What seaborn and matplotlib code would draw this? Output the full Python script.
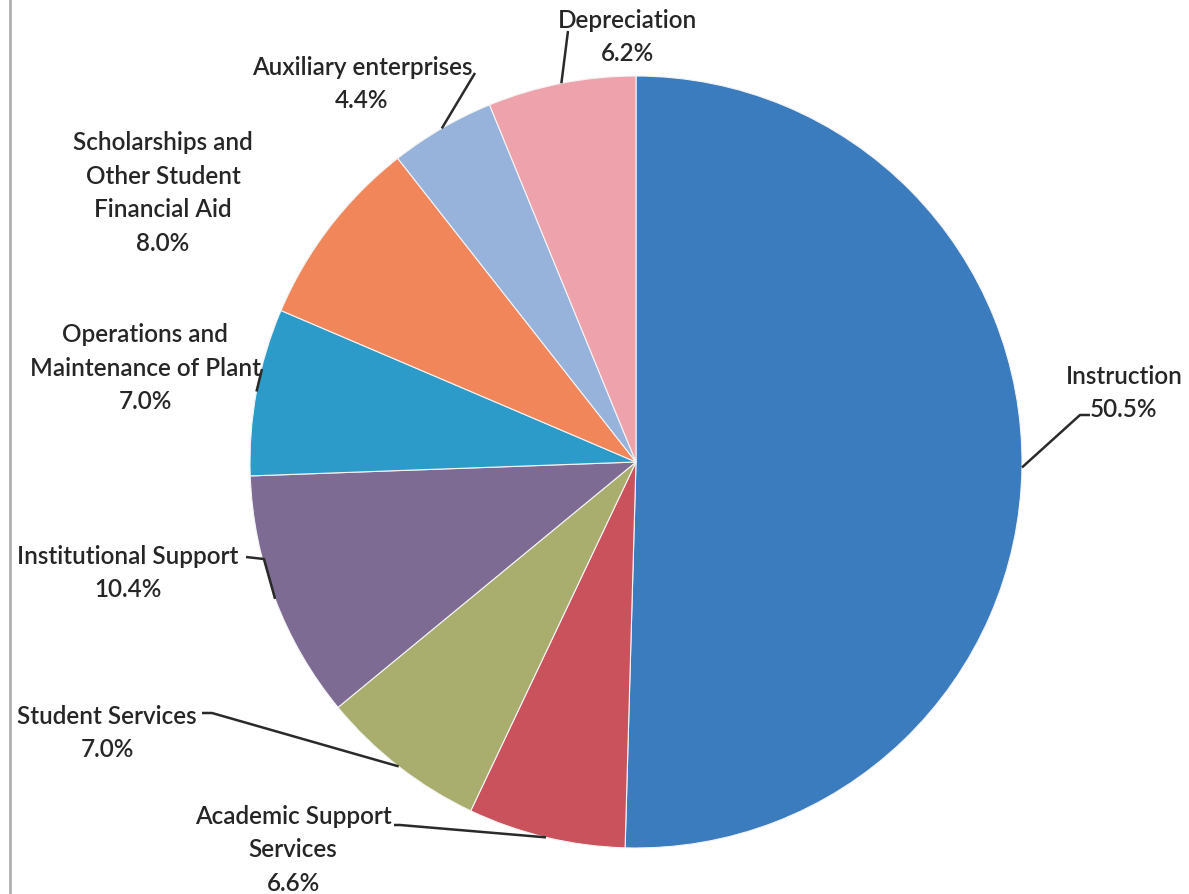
import matplotlib
matplotlib.use("Agg")
import matplotlib.pyplot as plt
import numpy as np
import seaborn as sns

sns.set_theme(style="white")
plt.rcParams["font.family"] = ["Lato", "DejaVu Sans"]

# Expense categories, clockwise from 12 o'clock
categories = [
    "Instruction",
    "Academic Support\nServices",
    "Student Services",
    "Institutional Support",
    "Operations and\nMaintenance of Plant",
    "Scholarships and\nOther Student\nFinancial Aid",
    "Auxiliary enterprises",
    "Depreciation",
]
shares = [50.5, 6.6, 7.0, 10.4, 7.0, 8.0, 4.4, 6.2]
colors = ["#3b7cbf", "#c9525d", "#a9ad6d", "#7d6b93",
          "#2c9bc9", "#f0865a", "#97b3dc", "#eea2ab"]

W, H = 1189, 895
fig = plt.figure(figsize=(W / 100, H / 100), dpi=100)
ax = fig.add_axes([0, 0, 1, 1])

cx, cy, r = 636, H - 463, 386
wedges, _ = ax.pie(shares, colors=colors, startangle=90, counterclock=False,
                   center=(cx, cy), radius=r, frame=True,
                   wedgeprops=dict(edgecolor="#f4f4f4", linewidth=0.8))
ax.set_xlim(0, W)
ax.set_ylim(0, H)
ax.set_aspect("equal")
ax.axis("off")

# label placement (text centre, leader bend points) in pixel space, y from top
label_layout = [
    dict(xy=(1124, 393), path=[(1080, 416), (1090, 416)]),
    dict(xy=(293, 850), path=[(400, 826), (394, 826)]),
    dict(xy=(107, 733), path=[(212, 714), (202, 714)]),
    dict(xy=(128, 573), path=[(264, 560), (246, 558)]),
    dict(xy=(145, 368), path=[(262, 370)]),
    dict(xy=(163, 193), path=None),
    dict(xy=(362, 84), path=[(475, 74)]),
    dict(xy=(627, 37), path=[(568, 32)]),
]

txt_color = "#262626"
for w, cat, val, lay in zip(wedges, categories, shares, label_layout):
    tx, ty = lay["xy"]
    ax.text(tx, H - ty, f"{cat}\n{val:.1f}%", ha="center", va="center",
            fontsize=17.5, color=txt_color, linespacing=1.56,
            fontweight="semibold")
    if lay["path"]:
        mid = np.deg2rad((w.theta1 + w.theta2) / 2)
        ex, ey = cx + r * np.cos(mid), cy + r * np.sin(mid)
        xs = [ex] + [p[0] for p in lay["path"]]
        ys = [ey] + [H - p[1] for p in lay["path"]]
        ax.plot(xs, ys, color="#2a2a2a", lw=1.8, solid_capstyle="butt")

# thin frame rule along the left edge
ax.plot([10, 10], [0, H], color="#b0b0b0", lw=2)

fig.savefig("out.png", dpi=100, facecolor="white")
